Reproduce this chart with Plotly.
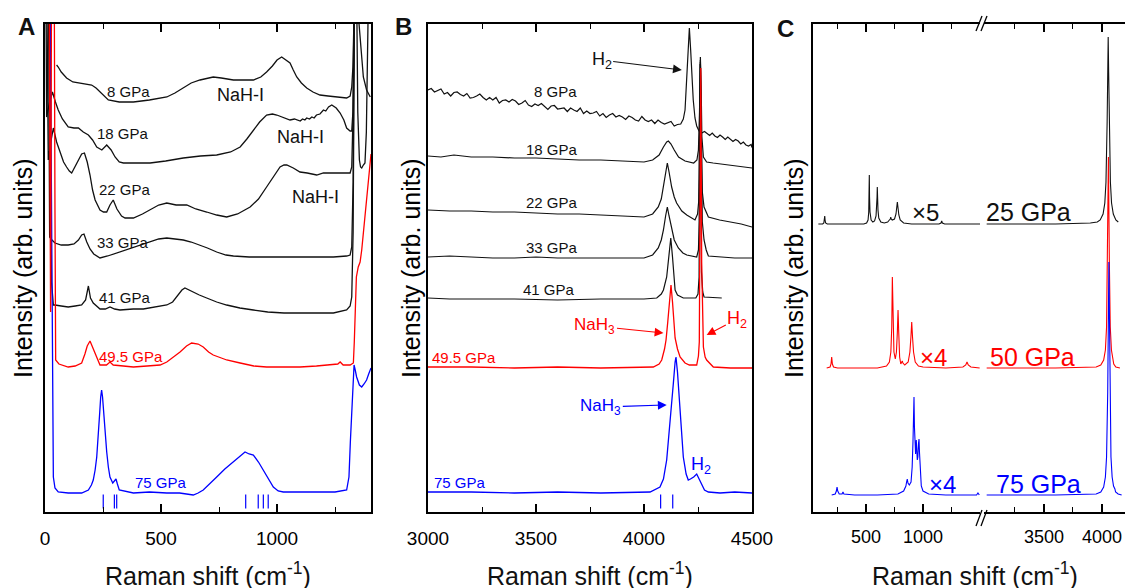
import plotly.graph_objects as go

W, H = 1125, 588
BLACK, RED, BLUE = "#111111", "#ff0000", "#0000ff"
FONT = "Liberation Sans, Arial, sans-serif"

# ---------------- Panel A : low-frequency Raman spectra (shift cm-1, offset intensity) ----------------
A_8GPA = [(50,447),(57,445),(70,440),(93,434),(120,430),(151,429),(180,428),(201,427),(220,424),(237,420),
          (255,416),(273,412),(320,410),(381,410),(450,412),(525,415),(560,419),(596,424),(630,429),(668,432),
          (700,434),(725,435),(760,434),(812,432),(850,432),(898,432),(930,435),(955,440),(980,446),(1000,452),
          (1020,455),(1040,452),(1056,449),(1070,442),(1085,435),(1105,429),(1128,424),(1155,420),(1185,417),
          (1220,416),(1260,415),(1300,414),(1315,416),(1322,425),(1327,445),(1331,480),(1334,520),(1342,600),
          (1351,495),(1358,472),(1365,452),(1372,435),(1386,422),(1402,415)]
A_18GPA = [(4,520),(7,395),(20,410),(32,420),(45,410),(57,402),(75,393),(100,385),(125,384),(144,384),(165,380),
           (187,377),(205,372),(223,365),(245,362),(266,367),(285,362),(302,355),(320,350),(338,349),(400,349),
           (453,349),(520,351),(596,354),(670,356),(740,357),(800,360),(841,365),(870,373),(898,382),(925,390),
           (955,397),(980,398),(999,397),(1030,394),(1056,392),(1075,393),(1090,392),(1100,391),(1110,393),
           (1120,392),(1128,394),(1140,393),(1150,395),(1160,394),(1170,397),(1185,398),(1200,402),(1210,401),
           (1222,405),(1236,407),(1255,404),(1272,399),(1288,392),(1300,384),(1315,381),(1322,381),(1327,400),
           (1330,450),(1333,520),(1340,600),(1348,400),(1355,352),(1360,345),(1365,344),(1372,347),(1379,349),
           (1385,380),(1390,450),(1394,520)]
A_22GPA = [(8,520),(14,352),(25,370),(36,384),(50,370),(65,359),(80,350),(93,345),(105,341),(115,339),(130,346),
           (144,352),(158,358),(170,359),(182,350),(194,337),(205,322),(216,312),(237,302),(252,300),(266,300),
           (280,307),(294,312),(310,303),(330,296),(345,294),(381,294),(420,298),(453,302),(490,307),(525,309),
           (565,307),(611,307),(650,303),(697,300),(740,297),(783,295),(830,298),(884,305),(920,313),(955,325),
           (985,335),(1013,345),(1030,347),(1042,347),(1070,344),(1099,340),(1130,339),(1171,337),(1200,339),
           (1243,339),(1280,339),(1315,339),(1322,345),(1328,400),(1332,520)]
A_33GPA = [(15,520),(20,275),(30,272),(43,269),(70,267),(100,267),(125,268),(144,272),(158,277),(168,278),
           (180,270),(194,263),(210,258),(237,254),(270,256),(309,259),(345,262),(381,265),(420,268),(453,270),
           (490,273),(525,274),(560,273),(596,272),(630,270),(668,267),(700,264),(740,260),(780,257),(812,256),
           (880,255),(955,255),(1030,255),(1099,255),(1170,255),(1243,255),(1300,256),(1315,257),(1322,265),
           (1328,330),(1333,520)]
A_41GPA = [(18,520),(28,230),(36,207),(43,207),(70,206),(100,205),(130,206),(158,207),(175,212),(187,226),
           (196,214),(208,209),(237,203),(260,203),(280,205),(300,203),(323,202),(380,203),(424,203),(480,205),
           (525,207),(550,210),(568,215),(590,222),(603,224),(620,222),(639,220),(665,217),(697,214),(740,210),
           (783,207),(840,204),(898,202),(960,200),(1030,199),(1099,199),(1170,199),(1243,199),(1300,202),
           (1315,206),(1322,215),(1328,280),(1334,520)]
A_49GPA = [(18,520),(24,200),(28,520),(40,520),(43,300),(46,152),(60,148),(72,147),(100,145),(130,146),(158,149),
           (172,158),(182,166),(194,171),(203,166),(216,158),(230,150),(237,147),(265,147),(280,150),(294,147),
           (340,146),(381,145),(440,146),(496,147),(525,150),(555,155),(582,160),(610,166),(632,169),(660,168),
           (682,165),(705,160),(725,157),(760,154),(783,152),(841,149),(900,146),(955,145),(1030,145),(1099,145),
           (1170,146),(1243,147),(1262,148),(1272,150),(1285,147),(1315,147),(1329,149),(1333,170),(1337,210),
           (1342,235),(1350,245),(1358,250),(1365,262),(1372,280),(1380,300),(1390,325),(1398,345),(1405,358)]
A_75GPA = [(22,520),(28,300),(33,100),(36,35),(43,24),(57,20),(100,19),(158,19),(187,22),(200,27),(208,32),
           (216,42),(223,55),(230,75),(236,100),(240,115),(244,122),(248,115),(254,95),(260,75),(266,60),(273,45),
           (280,35),(292,29),(300,31),(306,33),(312,28),(320,22),(381,19),(450,20),(525,19),(580,19),(639,17),
           (660,19),(682,22),(710,28),(740,35),(775,43),(812,50),(840,56),(862,60),(880,58),(898,57),(920,50),
           (941,42),(962,33),(984,25),(1005,21),(1027,20),(1100,20),(1171,20),(1250,20),(1300,22),(1310,35),
           (1316,70),(1322,99),(1328,130),(1332,147),(1337,142),(1343,135),(1355,127),(1365,125),(1375,128),
           (1386,132),(1395,138),(1405,144)]
A_CALC_TICKS = [251, 299, 309, 865, 919, 941, 962]

# ---------------- Panel B : H-H stretching region ----------------
B_8GPA = [(3000,422),(3015,423.5),(3030,420),(3045,421.5),(3060,423),(3075,418),(3090,419.5),(3105,416),
          (3120,419.5),(3135,420),(3150,417.5),(3165,416),(3180,418.5),(3195,414),(3210,414.5),(3225,416),
          (3240,418),(3255,414.5),(3270,412),(3285,414.5),(3300,412),(3315,414.5),(3330,409),(3345,411.5),
          (3360,412),(3375,410),(3390,412.5),(3405,411),(3420,407.5),(3435,409),(3450,411.5),(3465,407),
          (3480,405.5),(3495,408),(3510,406.5),(3525,408.5),(3540,405),(3555,402.5),(3570,406),(3585,406.5),
          (3600,403),(3615,403.5),(3630,404),(3645,400.5),(3660,404),(3675,402),(3690,400.5),(3705,404),
          (3720,398.5),(3735,401),(3750,398.5),(3765,399),(3780,400.5),(3795,396),(3810,398.5),(3825,394.5),
          (3840,397),(3855,398.5),(3870,395),(3885,396.5),(3900,395),(3915,392.5),(3930,396),(3945,394.5),
          (3960,392),(3975,391),(3990,395.5),(4005,392),(4020,390.5),(4035,392),(4050,388.5),(4065,392),
          (4080,389.5),(4095,388),(4110,389.5),(4125,390.5),(4140,386),(4155,387.5),(4170,388),(4182,393),
          (4190,402),(4197,430),(4203,462),(4210,484),(4216,462),(4222,430),(4228,412),(4236,394),(4244,386),
          (4255,381),(4267,379),(4280,380.5),(4292,378),(4304,376.5),(4316,379),(4328,376),(4340,374.5),
          (4352,377),(4364,375),(4376,372.5),(4388,375),(4400,373),(4412,370.5),(4424,372.5),(4436,371),
          (4448,368),(4460,370),(4472,367),(4484,366),(4496,367.5),(4500,364.5)]
B_18GPA = [(3000,356),(3060,355),(3120,357),(3200,355),(3300,355),(3400,354),(3500,354),(3600,353),(3700,352),
           (3800,352),(3900,351),(4000,350),(4040,352),(4070,357),(4090,365),(4105,370),(4113,371),(4125,368),
           (4140,362),(4160,355),(4190,351),(4230,349),(4245,352),(4252,362),(4257,400),(4261,455),(4265,420),
           (4268,375),(4275,355),(4290,350),(4320,349),(4400,347),(4450,345),(4500,344)]
B_22GPA = [(3000,302),(3100,301),(3200,301),(3300,300),(3400,300),(3500,299),(3600,298),(3700,298),(3800,297),
           (3900,296),(4000,295),(4040,298),(4066,305),(4080,313),(4090,325),(4100,340),(4108,349),(4116,340),
           (4128,325),(4140,315),(4151,309),(4175,301),(4198,297),(4236,292),(4248,298),(4253,310),(4257,360),
           (4261,452),(4265,380),(4270,320),(4278,305),(4288,300),(4298,295),(4350,292),(4400,290),(4450,288),
           (4500,285)]
B_33GPA = [(3000,255),(3100,256),(3200,255),(3300,254),(3400,254),(3500,255),(3600,254),(3800,254),(4000,254),
           (4040,257),(4066,264),(4080,272),(4090,282),(4100,296),(4108,305),(4116,296),(4128,282),(4140,272),
           (4159,264),(4180,259),(4198,257),(4244,255),(4252,262),(4256,290),(4261,450),(4266,330),(4270,290),
           (4278,272),(4288,262),(4298,256),(4350,255),(4420,254),(4500,254)]
B_41GPA = [(3000,214),(3100,213),(3200,213),(3400,213),(3600,212),(3800,213),(4000,213),(4059,214),(4080,218),
           (4090,222),(4105,235),(4115,255),(4124,274),(4132,255),(4139,232),(4144,222),(4155,217),(4182,214),
           (4240,214),(4250,218),(4255,235),(4260,448),(4266,240),(4272,220),(4278,215),(4344,214),(4360,214)]
B_49GPA = [(3000,145),(3200,145),(3400,144),(3600,145),(3800,144),(4000,145),(4043,145),(4070,148),(4082,152),
           (4095,163),(4102,172),(4110,190),(4117,210),(4125,227),(4132,210),(4139,185),(4144,174),(4155,163),
           (4167,155),(4190,149),(4210,147),(4244,147),(4252,156),(4256,170),(4259,250),(4263,444),(4267,250),
           (4271,175),(4275,165),(4283,155),(4290,152),(4321,145),(4400,144),(4500,144)]
B_75GPA = [(3000,20),(3200,20),(3400,19),(3600,20),(3800,19),(4000,20),(4028,20),(4074,25),(4090,33),(4105,52),
           (4124,95),(4136,129),(4144,150),(4148,155),(4155,140),(4167,105),(4175,75),(4182,55),(4195,38),
           (4205,32),(4215,33),(4230,35),(4244,38),(4255,33),(4267,27),(4280,22),(4298,20),(4352,19),(4420,20),
           (4500,19)]
B_CALC_TICKS = [4077, 4133]

# ---------------- Panel C : calculated spectra (broken axis) ----------------
C_25_LOW = [(82,288),(120,288),(130,289),(135,292),(138,296),(141,292),(146,289),(160,288),(300,288),(480,288),
            (505,289),(518,292),(524,300),(527,315),(529,337),(531,315),(535,300),(545,292),(560,290),(575,291),
            (588,296),(594,305),(597,315),(599,325),(601,315),(605,302),(612,294),(630,290),(660,289),(690,290),
            (705,292),(713,293),(717,295),(721,293),(730,292),(750,293),(763,298),(770,305),(775,310),(780,305),
            (788,297),(800,292),(830,289),(900,288),(1000,288),(1140,288),(1158,289),(1164,291),(1170,289),
            (1190,288),(1300,288),(1500,288)]
C_25_HIGH = [(3006,288),(3600,288),(3900,289),(3960,290),(3985,292),(4010,298),(4025,309),(4035,330),(4045,390),
             (4050,440),(4054,475),(4058,440),(4063,390),(4073,330),(4083,309),(4098,298),(4120,292),(4141,290)]
C_50_LOW = [(155,144),(185,145),(193,148),(199,155),(205,148),(215,145),(250,144),(400,144),(600,144),(680,146),
            (705,150),(718,160),(726,185),(731,235),(736,185),(745,160),(757,153),(767,160),(775,180),(781,202),
            (787,180),(795,155),(805,148),(812,149),(818,151),(824,149),(840,147),(870,150),(885,160),(894,175),
            (901,190),(908,175),(917,160),(932,150),(960,146),(1000,145),(1200,144),(1350,145),(1375,147),
            (1386,150),(1397,147),(1420,145),(1497,144)]
C_50_HIGH = [(3006,144),(3600,144),(3950,145),(3990,147),(4015,152),(4030,162),(4040,185),(4048,250),(4056,355),
             (4064,250),(4072,185),(4082,162),(4092,152),(4097,151),(4102,148),(4120,145),(4155,144)]
C_75_LOW = [(199,17),(230,18),(240,21),(246,25),(252,21),(265,18),(290,18),(298,20),(306,18),(400,17),(600,17),
            (780,18),(830,21),(850,26),(856,30),(862,33),(868,29),(880,27),(895,30),(905,45),(912,70),(918,100),
            (921,115),(925,85),(930,60),(935,58),(939,68),(941,72),(944,65),(950,52),(955,55),(960,68),(965,73),
            (969,60),(975,40),(985,26),(1000,21),(1050,18),(1200,17),(1470,17),(1482,19),(1494,17)]
C_75_HIGH = [(3006,17),(3600,17),(3950,18),(3990,20),(4015,25),(4030,35),(4040,55),(4050,120),(4060,250),
             (4068,120),(4078,55),(4088,35),(4100,26),(4112,23),(4118,20),(4140,18),(4170,17)]

# ---------------- geometry (pixels -> paper) ----------------
def px(v):
    return v / W

def py(v):
    return 1 - v / H

XA = [px(45), px(371)]
XB = [px(428), px(752)]
XC1 = [px(813), px(980)]
XC2 = [px(984), 1.0]
YD = [py(512), py(24)]


def xy(pairs):
    return [p[0] for p in pairs], [p[1] for p in pairs]


fig = go.Figure()


def add_line(pairs, color, xa, ya, width=1.3):
    x, y = xy(pairs)
    fig.add_trace(go.Scatter(x=x, y=y, mode="lines", line=dict(color=color, width=width),
                             xaxis=xa, yaxis=ya, showlegend=False, hoverinfo="skip"))


def add_ticks(xs, xa, ya):
    fig.add_trace(go.Scatter(x=xs, y=[10.5] * len(xs), mode="markers",
                             marker=dict(symbol="line-ns", size=10, line=dict(color=BLUE, width=1.2)),
                             xaxis=xa, yaxis=ya, showlegend=False, hoverinfo="skip"))


for s in (A_8GPA, A_18GPA, A_22GPA, A_33GPA, A_41GPA):
    add_line(s, BLACK, "x", "y")
add_line(A_75GPA, BLUE, "x", "y")
add_line(A_49GPA, RED, "x", "y")
add_ticks(A_CALC_TICKS, "x", "y")

for s in (B_8GPA, B_18GPA, B_22GPA, B_33GPA, B_41GPA):
    add_line(s, BLACK, "x2", "y2", 1.2)
add_line(B_49GPA, RED, "x2", "y2")
add_line(B_75GPA, BLUE, "x2", "y2")
add_ticks(B_CALC_TICKS, "x2", "y2")

add_line(C_25_LOW, BLACK, "x3", "y3", 1.1)
add_line(C_25_HIGH, BLACK, "x4", "y3", 1.1)
add_line(C_50_LOW, RED, "x3", "y3", 1.1)
add_line(C_50_HIGH, RED, "x4", "y3", 1.1)
add_line(C_75_LOW, BLUE, "x3", "y3", 1.1)
add_line(C_75_HIGH, BLUE, "x4", "y3", 1.1)


def xaxis(domain, rng, anchor, fsize=19, **kw):
    d = dict(domain=domain, range=rng, anchor=anchor, showline=True, linecolor="black", linewidth=1.5,
             mirror="ticks", ticks="inside", ticklen=8, tickwidth=1.5, tickcolor="black",
             showgrid=False, zeroline=False, tickfont=dict(size=fsize, color="black", family=FONT),
             ticklabelstandoff=8, fixedrange=True, automargin=False)
    d.update(kw)
    return d


def yaxis(anchor, mirror):
    return dict(domain=YD, range=[0, 488], anchor=anchor, showline=True, linecolor="black", linewidth=1.5,
                mirror=mirror, ticks="", showticklabels=False, showgrid=False, zeroline=False,
                fixedrange=True, automargin=False)


minor = dict(ticks="inside", ticklen=5, tickwidth=1.3, tickcolor="black")

fig.update_layout(
    template="none",
    width=W, height=H, margin=dict(l=0, r=0, t=0, b=0, pad=0, autoexpand=False),
    paper_bgcolor="white", plot_bgcolor="white", showlegend=False,
    font=dict(family=FONT, color="black"),
    xaxis=xaxis(XA, [0, 1405], "y", tickmode="linear", tick0=0, dtick=500,
                minor=dict(minor, dtick=250, tick0=0)),
    yaxis=yaxis("x", True),
    xaxis2=xaxis(XB, [3000, 4500], "y2", tickmode="linear", tick0=3000, dtick=500,
                 minor=dict(minor, dtick=250, tick0=3000)),
    yaxis2=yaxis("x2", True),
    xaxis3=xaxis(XC1, [35, 1500], "y3", fsize=18, tickmode="array", tickvals=[500, 1000],
                 minor=dict(minor, tickmode="array", tickvals=[250, 750, 1250])),
    yaxis3=yaxis("x3", False),
    xaxis4=xaxis(XC2, [2983, 4199], "y3", fsize=18, tickmode="array", tickvals=[3500, 4000],
                 minor=dict(minor, tickmode="array", tickvals=[3250, 3750])),
)

ann = []


def label(text, x, y, xr, yr, color=BLACK, size=15):
    ann.append(dict(text=text, x=x, y=y, xref=xr, yref=yr, showarrow=False, xanchor="center",
                    yanchor="middle", font=dict(size=size, color=color, family=FONT)))


def arrow_label(text, tx, ty, hx, hy, xr, yr, color, size):
    # text sits at the arrow tail (tx, ty); arrow head points at (hx, hy)
    ann.append(dict(text=text, x=hx, y=hy, ax=tx, ay=ty, xref=xr, yref=yr, axref=xr, ayref=yr,
                    showarrow=True, arrowhead=2, arrowsize=1.6, arrowwidth=1.1, arrowcolor=color,
                    font=dict(size=size, color=color, family=FONT)))


# Panel A labels
label("8 GPa", 359, 421, "x", "y")
label("18 GPa", 338, 379, "x", "y")
label("22 GPa", 345, 323, "x", "y")
label("33 GPa", 338, 270, "x", "y")
label("41 GPa", 345, 215, "x", "y")
label("49.5 GPa", 372, 156, "x", "y", RED)
label("75 GPa", 499, 30, "x", "y", BLUE)
label("NaH-I", 841, 417, "x", "y", size=18)
label("NaH-I", 1102, 375, "x", "y", size=18)
label("NaH-I", 1167, 315, "x", "y", size=18)

# Panel B labels
label("8 GPa", 3588, 421, "x2", "y2")
label("18 GPa", 3573, 363, "x2", "y2")
label("22 GPa", 3573, 310, "x2", "y2")
label("33 GPa", 3573, 265, "x2", "y2")
label("41 GPa", 3560, 223, "x2", "y2")
label("49.5 GPa", 3167, 155, "x2", "y2", RED)
label("75 GPa", 3148, 30, "x2", "y2", BLUE)
arrow_label("H<sub>2</sub>", 3804, 452, 4175, 442, "x2", "y2", BLACK, 18)
arrow_label("NaH<sub>3</sub>", 3773, 186, 4090, 179, "x2", "y2", RED, 17)
arrow_label("H<sub>2</sub>", 4432, 193, 4290, 177, "x2", "y2", RED, 18)
arrow_label("NaH<sub>3</sub>", 3800, 105, 4105, 107, "x2", "y2", BLUE, 17)
label("H<sub>2</sub>", 4262, 47, "x2", "y2", BLUE, 18)

# Panel C labels
label("\u00d75", 1018, 300, "x3", "y3", BLACK, 24)
label("25 GPa", 3371, 300, "x4", "y3", BLACK, 25)
label("\u00d74", 1096, 155, "x3", "y3", RED, 24)
label("50 GPa", 3399, 155, "x4", "y3", RED, 25)
label("\u00d74", 1169, 28, "x3", "y3", BLUE, 24)
label("75 GPa", 3457, 28, "x4", "y3", BLUE, 25)

# axis titles and panel letters
for cx in (208, 590, 975):
    label("Raman shift (cm<sup>-1</sup>)", px(cx), py(574), "paper", "paper", BLACK, 25)
for cx in (23, 411, 794):
    ann.append(dict(text="Intensity (arb. units)", x=px(cx), y=py(268), xref="paper", yref="paper",
                    showarrow=False, textangle=-90, xanchor="center", yanchor="middle",
                    font=dict(size=25, color="black", family=FONT)))
for t, cx, cy in (("A", 26, 27), ("B", 403, 27), ("C", 785, 28)):
    label("<b>%s</b>" % t, px(cx), py(cy), "paper", "paper", BLACK, 24)

fig.update_layout(annotations=ann)

# axis-break marks
shapes = []
for (y0, y1) in ((31, 16), (526, 510)):
    for dx in (0, 5):
        shapes.append(dict(type="line", xref="paper", yref="paper",
                           x0=px(976 + dx), y0=py(y0), x1=px(982 + dx), y1=py(y1),
                           line=dict(color="black", width=1.3)))
fig.update_layout(shapes=shapes)

fig.write_html("out.html", config={"displayModeBar": False},
               post_script="document.body.style.margin='0';")
